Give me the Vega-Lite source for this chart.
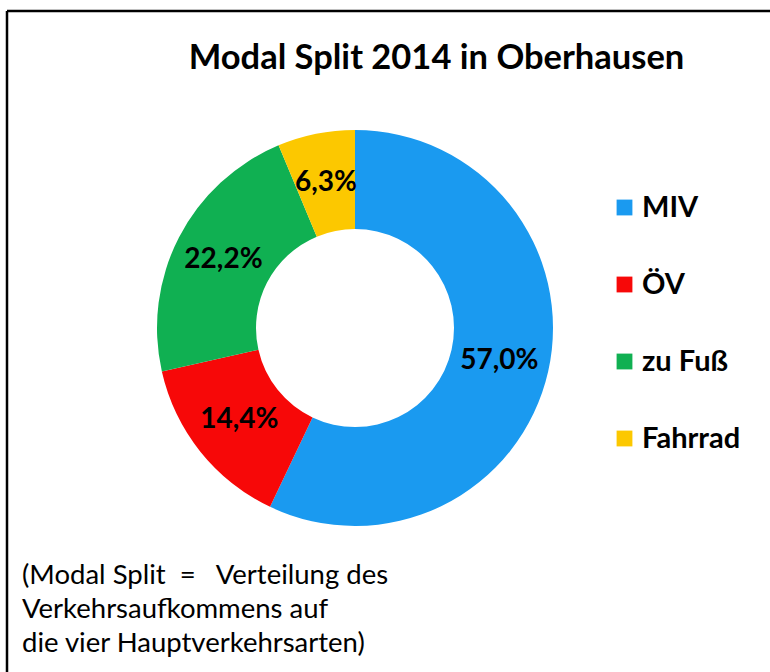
{
  "$schema": "https://vega.github.io/schema/vega-lite/v6.json",
  "width": 763,
  "height": 661,
  "autosize": {"type": "none"},
  "padding": {"left": 7, "top": 11, "right": 0, "bottom": 0},
  "background": "white",
  "config": {
    "view": {"stroke": null},
    "font": "Lato"
  },
  "title": {
    "text": "Modal Split 2014 in Oberhausen",
    "font": "Lato",
    "fontSize": 34.5,
    "fontWeight": "bold",
    "color": "black",
    "anchor": "middle",
    "frame": "group",
    "baseline": "alphabetic",
    "dx": 48,
    "dy": 98
  },
  "data": {
    "values": [
      {"mode": "MIV", "share": 57.0, "label": "57,0%", "rank": 1},
      {"mode": "ÖV", "share": 14.4, "label": "14,4%", "rank": 2},
      {"mode": "zu Fuß", "share": 22.2, "label": "22,2%", "rank": 3},
      {"mode": "Fahrrad", "share": 6.3, "label": "6,3%", "rank": 4}
    ]
  },
  "layer": [
    {
      "data": {"values": [{"edge": "top"}]},
      "mark": {"type": "rule", "color": "black", "strokeWidth": 2.5},
      "encoding": {"y": {"value": 0}}
    },
    {
      "data": {"values": [{"edge": "left"}]},
      "mark": {"type": "rule", "color": "black", "strokeWidth": 2.5},
      "encoding": {"x": {"value": 0}}
    },
    {
      "mark": {"type": "arc", "innerRadius": 99, "outerRadius": 198},
      "encoding": {
        "theta": {"field": "share", "type": "quantitative", "stack": true},
        "order": {"field": "rank", "type": "quantitative"},
        "color": {
          "field": "mode",
          "type": "nominal",
          "scale": {
            "domain": ["MIV", "ÖV", "zu Fuß", "Fahrrad"],
            "range": ["#1a9af0", "#f70808", "#10b052", "#fcc800"]
          },
          "legend": {
            "title": null,
            "orient": "none",
            "legendX": 603,
            "legendY": 182,
            "padding": 0,
            "symbolType": "square",
            "symbolSize": 250,
            "symbolStrokeWidth": 0,
            "symbolOpacity": 1,
            "labelFont": "Lato",
            "labelFontSize": 29,
            "labelFontWeight": "bold",
            "labelColor": "black",
            "labelOffset": 3,
            "rowPadding": 47
          }
        },
        "x": {"value": 348},
        "y": {"value": 317}
      }
    },
    {
      "mark": {"type": "text", "radius": 148, "font": "Lato", "fontSize": 28, "fontWeight": "bold", "color": "black"},
      "encoding": {
        "theta": {"field": "share", "type": "quantitative", "stack": true},
        "order": {"field": "rank", "type": "quantitative"},
        "text": {"field": "label"},
        "x": {"value": 348},
        "y": {"value": 317}
      }
    },
    {
      "data": {"values": [{"note": "(Modal Split\u00a0 =\u00a0\u00a0 Verteilung des\nVerkehrsaufkommens auf\ndie vier Hauptverkehrsarten)"}]},
      "mark": {"type": "text", "font": "Lato", "fontSize": 27.5, "align": "left", "baseline": "middle", "lineBreak": "\n", "lineHeight": 34, "color": "black"},
      "encoding": {
        "text": {"field": "note"},
        "x": {"value": 15},
        "y": {"value": 565}
      }
    }
  ]
}
